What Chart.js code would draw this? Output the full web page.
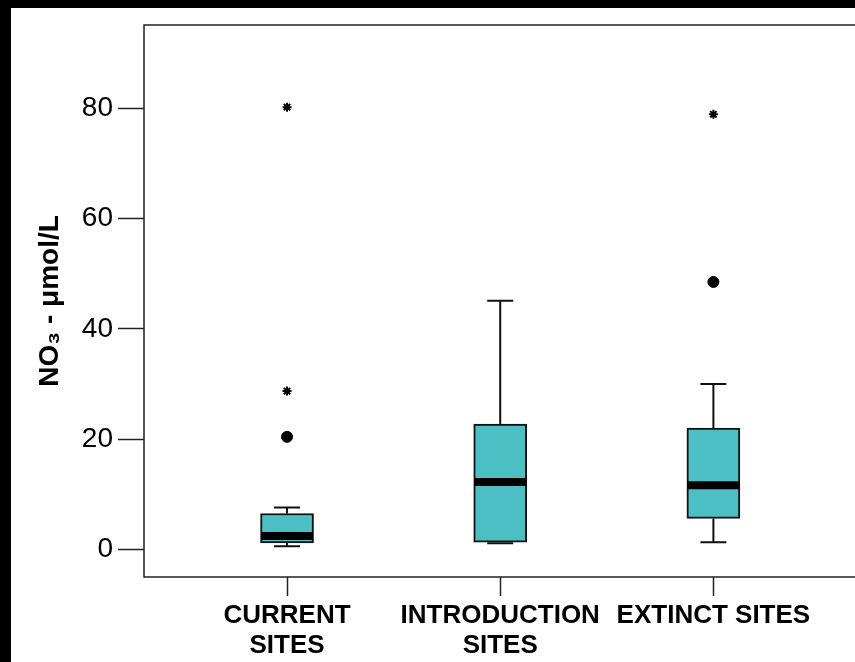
<!DOCTYPE html>
<html>
<head>
<meta charset="utf-8">
<script src="https://cdn.jsdelivr.net/npm/chart.js@4/dist/chart.umd.min.js"></script>
<style>
  html, body { margin: 0; padding: 0; background: #000; overflow: hidden; width: 855px; height: 662px; }
  #wrap { position: absolute; left: 11px; top: 8px; width: 853px; height: 654px; background: #fff; }
</style>
</head>
<body>
<div id="wrap"><canvas id="boxChart" width="853" height="654"></canvas></div>
<script>
// categories (split in lines like the axis labels)
const categories = [['CURRENT', 'SITES'], ['INTRODUCTION', 'SITES'], ['EXTINCT SITES']];

// box plot values, NO3 in umol/L
const whiskerLow = [0.55, 1.1, 1.3];
const q1 = [1.15, 1.3, 5.6];
const median = [2.4, 12.2, 11.6];
const q3 = [6.5, 22.7, 22.0];
const whiskerHigh = [7.6, 45.1, 30.0];
const outliers = [[20.4], [], [48.5]];
const extremes = [[28.7, 80.2], [], [78.9]];

const yTicks = [0, 20, 40, 60, 80];
const yTitle = 'NO\u2083 - \u03bcmol/L';

const FONT = "'Liberation Sans', Arial, Helvetica, sans-serif";
const boxColor = '#4cbfc4';

const boxData = categories.map((c, i) => ({ x: i, y: [q1[i], q3[i]] }));
const outlierData = [];
outliers.forEach((arr, i) => arr.forEach(v => outlierData.push({ x: i, y: v })));
const extremeData = [];
extremes.forEach((arr, i) => arr.forEach(v => extremeData.push({ x: i, y: v })));

// whiskers go behind the boxes, medians on top
const boxExtras = {
    id: 'boxExtras',
    beforeDatasetsDraw(chart) {
        const ctx = chart.ctx;
        const xs = chart.scales.x, ys = chart.scales.y;
        ctx.save();
        ctx.strokeStyle = '#111';
        ctx.lineWidth = 2;
        categories.forEach((c, i) => {
            const px = xs.getPixelForValue(i);
            const capHalf = 13;
            ctx.beginPath();
            ctx.moveTo(px, ys.getPixelForValue(q3[i]));
            ctx.lineTo(px, ys.getPixelForValue(whiskerHigh[i]));
            ctx.moveTo(px, ys.getPixelForValue(q1[i]));
            ctx.lineTo(px, ys.getPixelForValue(whiskerLow[i]));
            ctx.moveTo(px - capHalf, ys.getPixelForValue(whiskerHigh[i]));
            ctx.lineTo(px + capHalf, ys.getPixelForValue(whiskerHigh[i]));
            ctx.moveTo(px - capHalf, ys.getPixelForValue(whiskerLow[i]));
            ctx.lineTo(px + capHalf, ys.getPixelForValue(whiskerLow[i]));
            ctx.stroke();
        });
        ctx.restore();
    },
    afterDatasetsDraw(chart) {
        const ctx = chart.ctx;
        const xs = chart.scales.x, ys = chart.scales.y;
        ctx.save();
        ctx.strokeStyle = '#000';
        ctx.lineWidth = 8;
        categories.forEach((c, i) => {
            const px = xs.getPixelForValue(i);
            const py = ys.getPixelForValue(median[i]);
            ctx.beginPath();
            ctx.moveTo(px - 26, py);
            ctx.lineTo(px + 26, py);
            ctx.stroke();
        });
        // plot frame
        const a = chart.chartArea;
        ctx.strokeStyle = '#222';
        ctx.lineWidth = 1.5;
        ctx.strokeRect(a.left, a.top, a.right - a.left, a.bottom - a.top);
        ctx.restore();
    }
};

new Chart(document.getElementById('boxChart').getContext('2d'), {
    type: 'bar',
    data: {
        datasets: [{
            label: 'box',
            data: boxData,
            backgroundColor: boxColor,
            borderColor: '#111',
            borderWidth: 2,
            borderSkipped: false,
            barThickness: 53,
            order: 2
        }, {
            type: 'scatter',
            label: 'outliers',
            data: outlierData,
            pointStyle: 'circle',
            pointRadius: 5.5,
            backgroundColor: '#000',
            borderColor: '#000',
            order: 1
        }, {
            type: 'scatter',
            label: 'extremes',
            data: extremeData,
            pointStyle: 'star',
            pointRadius: 4.5,
            borderWidth: 2,
            borderColor: '#000',
            backgroundColor: '#000',
            order: 1
        }]
    },
    options: {
        responsive: false,
        animation: false,
        layout: { padding: { top: 17, right: 0, left: 0, bottom: 0 } },
        plugins: { legend: { display: false }, tooltip: { enabled: false } },
        scales: {
            x: {
                type: 'linear',
                offset: false,
                min: -0.671,
                max: 2.676,
                afterBuildTicks: s => { s.ticks = categories.map((c, i) => ({ value: i })); },
                afterFit: s => { s.height = 85; s.paddingLeft = 0; s.paddingRight = 0; },
                grid: { offset: false, drawOnChartArea: false, drawTicks: true, tickLength: 19, tickColor: '#222', tickWidth: 1.5 },
                border: { display: false },
                ticks: {
                    padding: 5,
                    maxRotation: 0,
                    autoSkip: false,
                    color: '#000',
                    font: { family: FONT, size: 26, weight: 'bold', lineHeight: 1.154 },
                    callback: v => categories[v]
                }
            },
            y: {
                min: -5.02,
                max: 95.1,
                afterBuildTicks: s => { s.ticks = yTicks.map(v => ({ value: v })); },
                afterFit: s => { s.width = 133; s.paddingTop = 0; s.paddingBottom = 0; },
                grid: { drawOnChartArea: false, drawTicks: true, tickLength: 26, tickColor: '#222', tickWidth: 1.5 },
                border: { display: false },
                ticks: {
                    padding: 5,
                    color: '#000',
                    font: { family: FONT, size: 28 }
                },
                title: {
                    display: true,
                    text: yTitle,
                    color: '#000',
                    padding: { top: 22, bottom: 0 },
                    font: { family: FONT, size: 28, weight: 'bold' }
                }
            }
        }
    },
    plugins: [boxExtras]
});
</script>
</body>
</html>
